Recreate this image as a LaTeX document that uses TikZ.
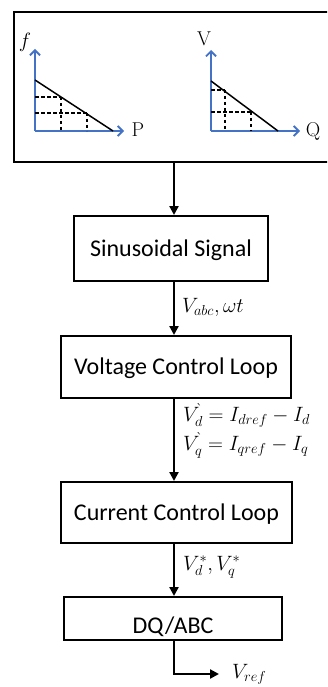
\documentclass[tikz,border=0pt]{standalone}
\usepackage{fontspec}
\newfontfamily\calibrifont{Carlito}
\usetikzlibrary{arrows.meta}
\definecolor{axblue}{HTML}{4472C4}
\begin{document}
\begin{tikzpicture}[x=1pt,y=-1pt,
  blk/.style={draw=black,line width=2pt,font=\calibrifont\fontsize{24}{28}\selectfont,inner sep=0pt,text height=15.5pt,text depth=0pt},
  flow/.style={line width=2.2pt,-{Triangle[length=9pt,width=9pt]}},
  ax/.style={draw=axblue,line width=1.8pt,-{Straight Barb[length=5pt,width=10pt]}},
  drop/.style={line width=1.4pt,dash pattern=on 3.5pt off 2.5pt},
  slope/.style={line width=1.5pt},
  lab/.style={font=\fontsize{22}{29}\selectfont,inner sep=0pt,anchor=base west},
  axlab/.style={font=\fontsize{20}{24}\selectfont,inner sep=0pt}]
\useasboundingbox (0,0) rectangle (327,687);
\clip (0,0) rectangle (327,687);
% droop characteristics box
\node[draw=black,line width=2pt,minimum width=320pt,minimum height=150pt,anchor=north west,inner sep=0pt] (droop) at (13,11) {};
% left plot f-P
\coordinate (o1) at (35,131);
\coordinate (fy) at (35,49);
\coordinate (px) at (124,131);
\draw[ax] (o1) -- (fy);
\draw[ax] (o1) -- (px);
\draw[slope] (35,80) -- (113,131);
\draw[drop] (35,97) -- (61,97) (61,97) -- (61,131);
\draw[drop] (35,113) -- (87,113) (87,113) -- (87,131);
\node[axlab] (flab) at (25,42) {$f$};
\node[axlab] (plab) at (138,130) {P};
% right plot V-Q
\coordinate (o2) at (211,131);
\coordinate (vy) at (211,50);
\coordinate (qx) at (300,131);
\draw[ax] (o2) -- (vy);
\draw[ax] (o2) -- (qx);
\draw[slope] (211,81) -- (278,131);
\draw[drop] (211,90) -- (225,90) (225,90) -- (225,131);
\draw[drop] (211,112) -- (251,112) (251,112) -- (251,131);
\node[axlab] (vlab) at (204,39) {V};
\node[axlab] (qlab) at (313,131) {Q};
% blocks
\node[blk,minimum width=194pt,minimum height=65pt] (sin) at (171,248.5) {Sinusoidal Signal};
\node[blk,minimum width=230pt,minimum height=62pt] (volt) at (176,367) {Voltage Control Loop};
\node[blk,minimum width=231pt,minimum height=61pt] (curr) at (176.5,512.5) {Current Control Loop};
\node[blk,minimum width=218pt,minimum height=43pt,text height=29pt] (dq) at (173,618.5) {DQ/ABC};
% spine
\coordinate (spine) at (174,0);
\coordinate (bend) at (174,674);
\coordinate (outp) at (219,674);
\draw[flow] (droop.south -| spine) -- (sin.north -| spine);
\draw[flow] (sin.south -| spine) -- (volt.north -| spine);
\draw[flow] (volt.south -| spine) -- (curr.north -| spine);
\draw[flow] (curr.south -| spine) -- (dq.north -| spine);
\draw[flow] (dq.south -| spine) -- (bend) -- (outp);
% labels
\node[lab] (l1) at (182,312) {$V_{abc},\omega t$};
\node[lab,align=left] (l2) at (183,450) {$V_{d}^{\grave{}} = I_{dref} - I_{d}$\\$V_{q}^{\grave{}} = I_{qref} - I_{q}$};
\node[lab] (l4) at (183,570) {$V_{d}^{*}, V_{q}^{*}$};
\node[lab] (l5) at (232,678) {$V_{ref}$};
\end{tikzpicture}
\end{document}
